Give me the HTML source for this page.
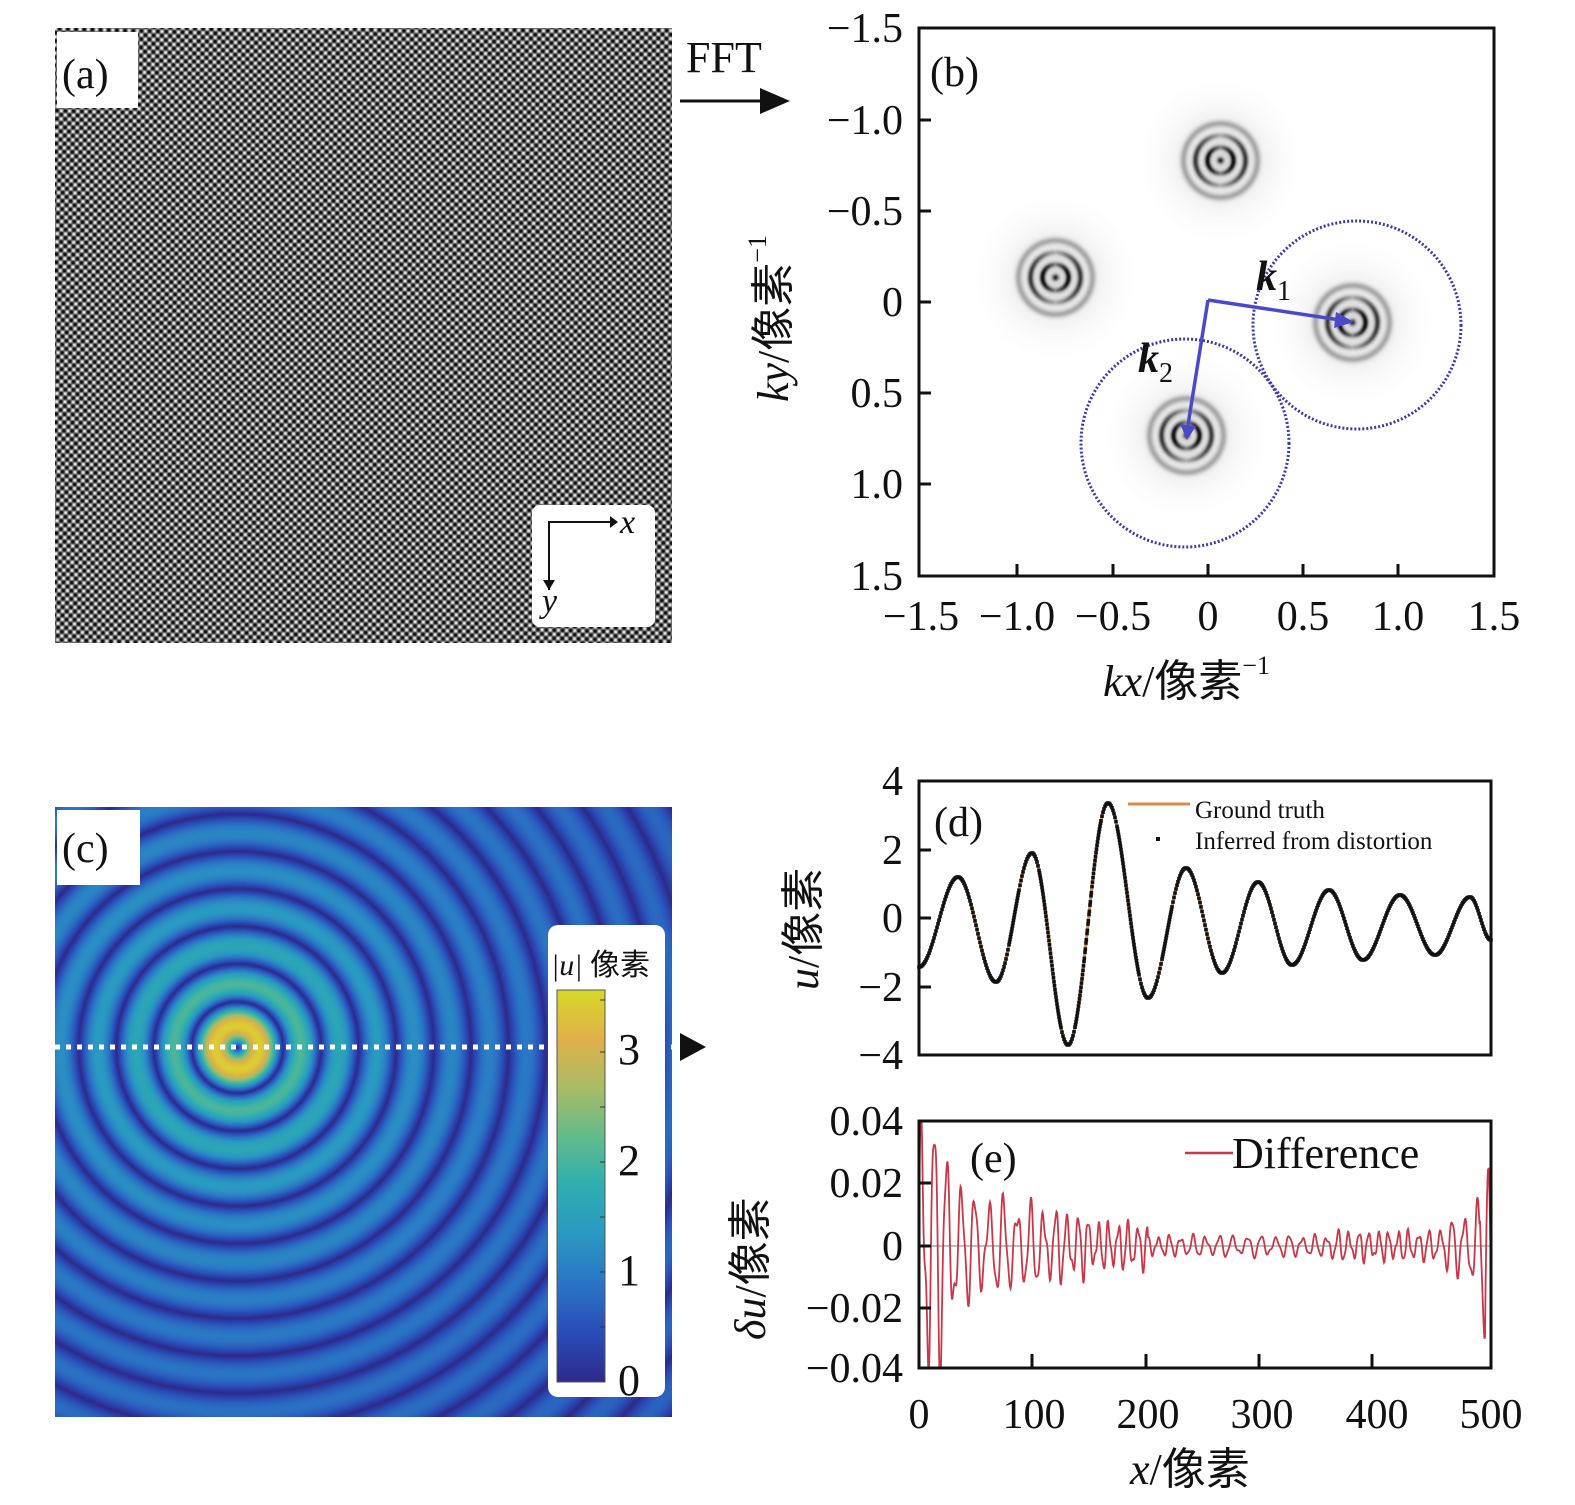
<!DOCTYPE html>
<html><head><meta charset="utf-8">
<style>
html,body{margin:0;padding:0;background:#fff;}
#root{position:relative;width:1575px;height:1505px;overflow:hidden;background:#fff;}
canvas{position:absolute;}
svg{position:absolute;left:0;top:0;}
text{font-family:"Liberation Serif","Noto Serif CJK SC",serif;fill:#111;}
.cj{font-family:"Liberation Serif","Noto Sans CJK SC",serif;}
</style></head><body>
<div id="root">
<canvas id="ca" width="617" height="615" style="left:55px;top:28px"></canvas>
<canvas id="cb" width="575" height="548" style="left:919px;top:28px"></canvas>
<canvas id="cc" width="617" height="610" style="left:55px;top:807px"></canvas>
<svg width="1575" height="1505" viewBox="0 0 1575 1505">
<defs>
<linearGradient id="par" x1="0" y1="1" x2="0" y2="0">
<stop offset="0" stop-color="#2c2a8a"/><stop offset="0.125" stop-color="#2a4cb8"/>
<stop offset="0.25" stop-color="#2a74c4"/><stop offset="0.375" stop-color="#2a98c2"/>
<stop offset="0.5" stop-color="#2eaeb0"/><stop offset="0.625" stop-color="#62bb8c"/>
<stop offset="0.75" stop-color="#a8bc66"/><stop offset="0.875" stop-color="#e0b04a"/>
<stop offset="1" stop-color="#d8d828"/></linearGradient>
<clipPath id="clE"><rect x="919" y="1121" width="572" height="247"/></clipPath>
</defs>
<rect x="57" y="32" width="81" height="76" fill="#fff"/>
<text x="62" y="88" font-size="42">(a)</text>
<rect x="532" y="505" width="123" height="122" rx="8" fill="#fff"/>
<path d="M549 590 V522 H610" stroke="#111" stroke-width="2" fill="none"/>
<path d="M610 516 L618 522 L610 528Z M543 580 L549 590 L555 580Z" fill="#111"/>
<text x="620" y="533" font-size="34" font-style="italic">x</text>
<text x="542" y="612" font-size="34" font-style="italic">y</text>
<text x="686" y="72" font-size="44">FFT</text>
<path d="M680 101 H762" stroke="#111" stroke-width="3"/>
<path d="M760 88 L790 101 L760 114Z" fill="#111"/>
<rect x="919" y="28" width="575" height="548" fill="none" stroke="#111" stroke-width="3"/>
<g stroke="#111" stroke-width="3">
<path d="M919 120h12M919 211h12M919 302h12M919 393h12M919 484h12"/>
<path d="M1017 576v-12M1113 576v-12M1208 576v-12M1303 576v-12M1398 576v-12"/>
</g>
<g font-size="42" text-anchor="end">
<text x="903" y="42">−1.5</text><text x="903" y="134">−1.0</text><text x="903" y="225">−0.5</text>
<text x="903" y="316">0</text><text x="903" y="407">0.5</text><text x="903" y="498">1.0</text><text x="903" y="590">1.5</text>
</g>
<g font-size="42" text-anchor="middle">
<text x="921" y="630">−1.5</text><text x="1017" y="630">−1.0</text><text x="1113" y="630">−0.5</text>
<text x="1208" y="630">0</text><text x="1303" y="630">0.5</text><text x="1398" y="630">1.0</text><text x="1494" y="630">1.5</text>
</g>
<text x="1103" y="696" font-size="44" class="cj"><tspan font-style="italic">kx</tspan>/像素<tspan font-size="26" dy="-22">−1</tspan></text>
<text transform="translate(788,402) rotate(-90)" font-size="44" class="cj"><tspan font-style="italic">ky</tspan>/像素<tspan font-size="26" dy="-22">−1</tspan></text>
<text x="930" y="86" font-size="42">(b)</text>
<circle cx="1357" cy="325" r="104" fill="none" stroke="#3a3aa8" stroke-width="3" stroke-dasharray="2 2"/>
<circle cx="1185" cy="443" r="104" fill="none" stroke="#3a3aa8" stroke-width="3" stroke-dasharray="2 2"/>
<g stroke="#4a4ac8" stroke-width="3.5" fill="none"><path d="M1208 300 L1340 320"/><path d="M1208 300 L1188 425"/></g>
<path d="M1336 312 L1354 322 L1334 328Z M1180 424 L1187 440 L1196 426Z" fill="#4a4ac8"/>
<text x="1256" y="290" font-size="42" font-weight="bold" font-style="italic">k<tspan font-size="28" font-weight="normal" font-style="normal" dy="10">1</tspan></text>
<text x="1138" y="372" font-size="42" font-weight="bold" font-style="italic">k<tspan font-size="28" font-weight="normal" font-style="normal" dy="10">2</tspan></text>
<rect x="57" y="810" width="83" height="75" fill="#fff"/>
<text x="62" y="862" font-size="42">(c)</text>
<line x1="55" y1="1047" x2="672" y2="1047" stroke="#fff" stroke-width="5" stroke-dasharray="5 6"/>
<rect x="548" y="925" width="117" height="472" rx="10" fill="#fff"/>
<rect x="557" y="990" width="48" height="392" fill="url(#par)" stroke="#555" stroke-width="1"/>
<g stroke="#333" stroke-width="1"><path d="M600 1327h5M600 1272h5M600 1217h5M600 1162h5M600 1107h5M600 1052h5M600 1000h5"/></g>
<text x="551" y="975" font-size="30" class="cj"><tspan font-style="italic">|u|</tspan> 像素</text>
<g font-size="44"><text x="618" y="1064">3</text><text x="618" y="1175">2</text><text x="618" y="1285">1</text><text x="618" y="1395">0</text></g>
<path d="M680 1033 L706 1047 L680 1061Z" fill="#111"/>
<rect x="919" y="781" width="572" height="274" fill="none" stroke="#111" stroke-width="3"/>
<g stroke="#111" stroke-width="3"><path d="M919 850h12M919 918h12M919 987h12"/></g>
<g font-size="42" text-anchor="end"><text x="903" y="795">4</text><text x="903" y="864">2</text><text x="903" y="932">0</text><text x="903" y="1001">−2</text><text x="903" y="1069">−4</text></g>
<text transform="translate(818,990) rotate(-90)" font-size="44" class="cj"><tspan font-style="italic">u</tspan>/像素</text>
<text x="934" y="836" font-size="42">(d)</text>
<line x1="1128" y1="804" x2="1190" y2="804" stroke="#d98a50" stroke-width="3"/>
<text x="1195" y="818" font-size="25">Ground truth</text>
<rect x="1156" y="837" width="4" height="4" fill="#111"/>
<text x="1195" y="849" font-size="25">Inferred from distortion</text>
<path id="dOr" fill="none" stroke="#d98a50" stroke-width="3"/>
<g id="dDots"></g>
<line x1="919" y1="1246" x2="1491" y2="1246" stroke="#aaa" stroke-width="1.5"/>
<path id="eLine" fill="none" stroke="#c83848" stroke-width="1.8" clip-path="url(#clE)"/>
<rect x="919" y="1121" width="572" height="247" fill="none" stroke="#111" stroke-width="3"/>
<g stroke="#111" stroke-width="3"><path d="M919 1183h12M919 1246h12M919 1308h12"/><path d="M1032 1368v-14M1146 1368v-14M1259 1368v-14M1372 1368v-14"/></g>
<g font-size="42" text-anchor="end"><text x="903" y="1135">0.04</text><text x="903" y="1197">0.02</text><text x="903" y="1260">0</text><text x="903" y="1322">−0.02</text><text x="903" y="1382">−0.04</text></g>
<g font-size="42" text-anchor="middle"><text x="919" y="1428">0</text><text x="1034" y="1428">100</text><text x="1148" y="1428">200</text><text x="1262" y="1428">300</text><text x="1377" y="1428">400</text><text x="1491" y="1428">500</text></g>
<text x="1130" y="1484" font-size="44" class="cj"><tspan font-style="italic">x</tspan>/像素</text>
<text transform="translate(765,1340) rotate(-90)" font-size="44" class="cj"><tspan font-style="italic">δu</tspan>/像素</text>
<text x="970" y="1172" font-size="42">(e)</text>
<line x1="1185" y1="1153" x2="1233" y2="1153" stroke="#c83848" stroke-width="2.5"/>
<text x="1232" y="1168" font-size="44">Difference</text>
</svg>
</div>
<script>
var J=[];for(var i=0;i<=3200;i++){var x=i*0.25/11.9,s=0,n=80;for(var k=0;k<n;k++){var t=(k+0.5)*Math.PI/n;s+=Math.cos(t-x*Math.sin(t));}J.push(s/n);}
function j1(r){var i=Math.min(3200,Math.floor(r*4));return J[i];}
var P=[[44,42,138],[42,76,184],[42,116,196],[42,152,194],[46,174,176],[98,187,140],[168,188,102],[224,176,74],[216,216,40]];
function par(v){v=Math.max(0,Math.min(1,v))*8;var i=Math.min(7,Math.floor(v)),f=v-i;return [0,1,2].map(function(c){return P[i][c]+(P[i+1][c]-P[i][c])*f;});}
(function(){var c=document.getElementById('cc').getContext('2d'),W=617,H=610,im=c.createImageData(W,H),d=im.data;
for(var y=0;y<H;y++)for(var x=0;x<W;x++){var r=Math.hypot(x-182,y-240);var v=Math.abs(5.9*j1(r));var col=par(v/3.55);var o=(y*W+x)*4;d[o]=col[0];d[o+1]=col[1];d[o+2]=col[2];d[o+3]=255;}
c.putImageData(im,0,0);})();
(function(){var c=document.getElementById('ca').getContext('2d'),W=617,H=615,im=c.createImageData(W,H),d=im.data;
var ca=Math.cos(0.03),sa=Math.sin(0.03);
for(var y=0;y<H;y++)for(var x=0;x<W;x++){var dx=x-178,dy=y-237,r=Math.hypot(dx,dy)+1e-6;var u=1.2*j1(r);var X=x-u*dx/r,Y=y-u*dy/r;var xr=X*ca+Y*sa,yr=-X*sa+Y*ca;
var v=Math.cos(Math.PI*xr/4.1)*Math.cos(Math.PI*yr/4.1);var g=105+160*v;g=Math.max(10,Math.min(250,g));var o=(y*W+x)*4;d[o]=d[o+1]=d[o+2]=g;d[o+3]=255;}
c.putImageData(im,0,0);})();
(function(){var c=document.getElementById('cb').getContext('2d'),W=575,H=548,im=c.createImageData(W,H),d=im.data;
var B=[[301,132],[136,249],[433,294],[267,407]];
for(var y=0;y<H;y++)for(var x=0;x<W;x++){var dk=0;for(var b=0;b<4;b++){var dx=x-B[b][0],dy=y-B[b][1],r=Math.hypot(dx,dy);if(r>80)continue;var an=Math.abs(dx)/(r+1e-6);
var v=0.8*Math.exp(-r*r/10)+0.95*Math.exp(-Math.pow(r-13,2)/7)*(0.4+0.6*an)+0.75*Math.exp(-Math.pow(r-25,2)/8)*(0.3+0.7*an)+0.3*Math.exp(-Math.pow(r-37,2)/12)+0.15*Math.exp(-r*r/1800);dk=Math.max(dk,v);}
var g=255-235*Math.min(1,dk);var o=(y*W+x)*4;d[o]=d[o+1]=d[o+2]=g;d[o+3]=255;}
c.putImageData(im,0,0);})();
(function(){var p=[[919,967],[958,877],[996,982],[1032,853],[1068,1045],[1108,803],[1148,998],[1186,868],[1222,973],[1258,882],[1292,965],[1329,890],[1363,960],[1400,895],[1435,955],[1470,897],[1491,940]];
var pts=[];for(var i=0;i<p.length-1;i++){var a=p[i],b=p[i+1];for(var x=a[0];x<b[0];x+=1){var f=(x-a[0])/(b[0]-a[0]);var y=a[1]+(b[1]-a[1])*(1-Math.cos(Math.PI*f))/2;pts.push([x,y]);}}
pts.push([1491,940]);
document.getElementById('dOr').setAttribute('d','M'+pts.map(function(q){return q[0]+' '+q[1].toFixed(1)}).join('L'));
var s='';for(var i=0;i<pts.length;i++){var a=pts[i];s+='<rect x="'+(a[0]-1.8)+'" y="'+(a[1]-1.8)+'" width="3.6" height="3.6" fill="#111"/>';}
for(var i=0;i<pts.length-1;i++){var a=pts[i],b=pts[i+1],dy=Math.abs(b[1]-a[1]);if(dy>5){var n=Math.floor(dy/4.5);for(var k=1;k<=n;k++){if(k%2==0&&a[0]>1050&&a[0]<1130)continue;var f=k/(n+1);s+='<rect x="'+(a[0]+f-1.8)+'" y="'+(a[1]+(b[1]-a[1])*f-1.8)+'" width="3.6" height="3.6" fill="#111"/>';}}}
document.getElementById('dDots').innerHTML=s;})();
(function(){
function env(t){if(t<8)return 0.05;if(t<40)return 0.05-0.032*(t-8)/32;if(t<150)return 0.018-0.008*(t-40)/110;if(t<200)return 0.008;if(t<360)return 0.0035;if(t<450)return 0.005;if(t<490)return 0.005+0.01*(t-450)/40;return 0.03;}
var ph=0,pts=[];for(var x=919;x<=1491;x+=0.5){var t=(x-919)/1.144;ph+=2*Math.PI/(10.5+2*Math.sin(t/37))*0.5/1.144;
var v=env(t)*(0.8*Math.sin(ph)+0.35*Math.sin(ph*0.37+t/23)*Math.sin(ph*1.9));if(t>495)v=0.045*Math.sin((t-495)*0.6)-0.02;pts.push(x.toFixed(1)+' '+(1246-v*3125).toFixed(1));}
document.getElementById('eLine').setAttribute('d','M'+pts.join('L'));})();
</script>
</body></html>
